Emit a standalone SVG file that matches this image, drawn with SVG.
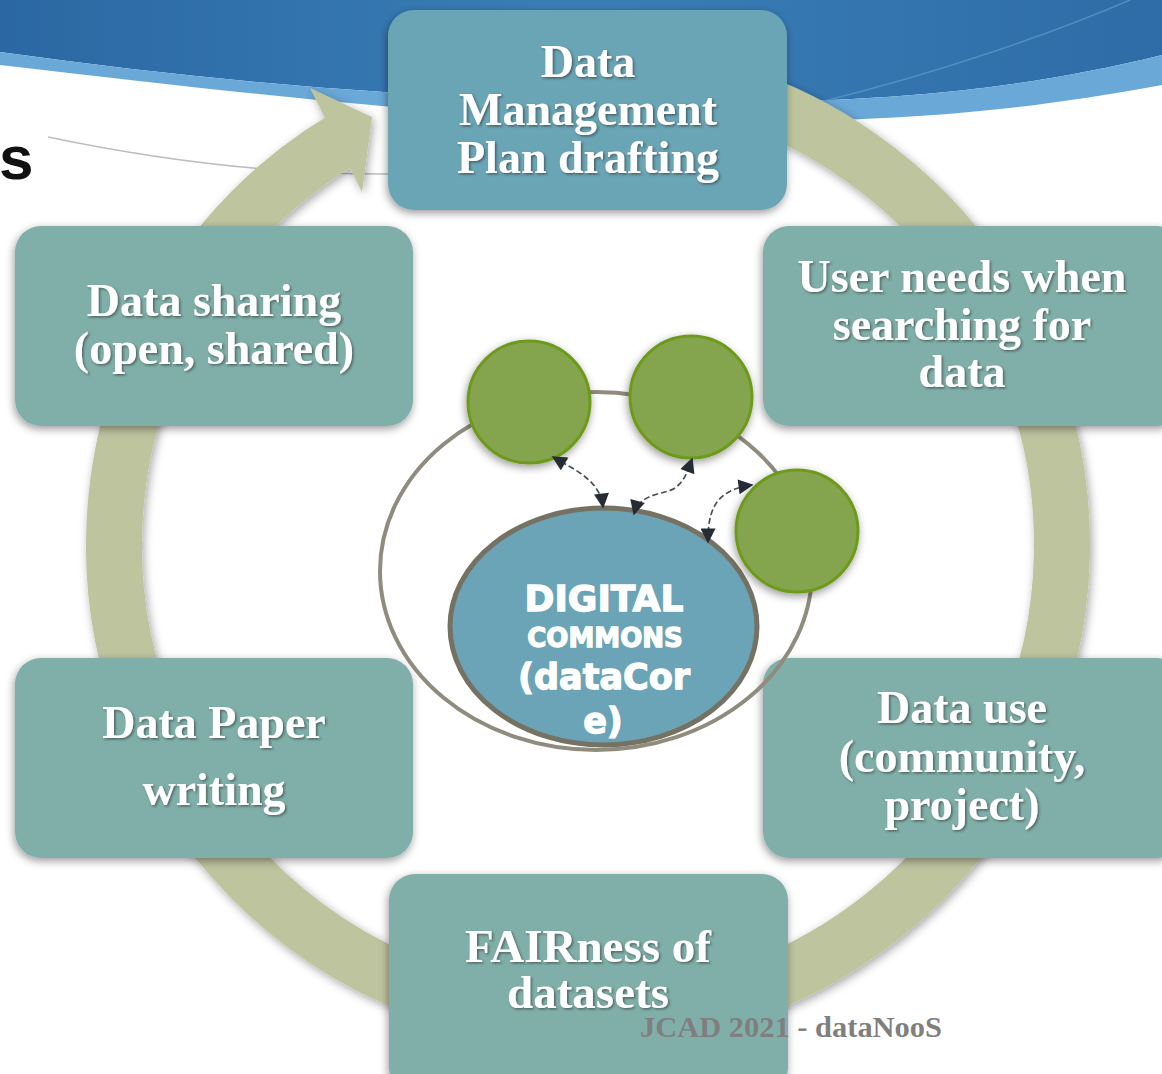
<svg xmlns="http://www.w3.org/2000/svg" width="1162" height="1074" viewBox="0 0 1162 1074">
<defs>
<linearGradient id="bannerGrad" x1="0" y1="0" x2="1" y2="0">
<stop offset="0" stop-color="#2B68A3"/>
<stop offset="0.5" stop-color="#3A7EB7"/>
<stop offset="1" stop-color="#2E6CA7"/>
</linearGradient>
<filter id="shadow" x="-20%" y="-20%" width="140%" height="140%">
<feDropShadow dx="-1" dy="3" stdDeviation="4" flood-color="#000" flood-opacity="0.4"/>
</filter>
<filter id="ringShadow" x="-10%" y="-10%" width="120%" height="120%">
<feDropShadow dx="2" dy="3" stdDeviation="5" flood-color="#000" flood-opacity="0.35"/>
</filter>
<filter id="textShadow" x="-10%" y="-10%" width="120%" height="130%">
<feDropShadow dx="1.5" dy="1.5" stdDeviation="1" flood-color="#2a2a2a" flood-opacity="0.55"/>
</filter>
<marker id="ah" viewBox="0 0 10 10" refX="9" refY="5" markerWidth="18" markerHeight="15" markerUnits="userSpaceOnUse" orient="auto-start-reverse">
<path d="M0,0 L10,5 L0,10 z" fill="#252C35"/>
</marker>
</defs>
<style>
.box{fill:#80AFA9;filter:url(#shadow)}
.boxDmp{fill:#6BA5B5;filter:url(#shadow)}
.lbl{font-family:"Liberation Serif","DejaVu Serif",serif;font-weight:bold;font-size:46px;fill:#ffffff;text-anchor:middle;filter:url(#textShadow)}
.core{font-family:"DejaVu Sans","Liberation Sans",sans-serif;font-weight:bold;fill:#ffffff;stroke:#ffffff;stroke-width:1.3;text-anchor:middle}
.green{fill:#84A54D;stroke:#6E9A1C;stroke-width:3;filter:url(#shadow)}
.link{fill:none;stroke:#4A5058;stroke-width:1.7;stroke-dasharray:6 3}
</style>
<rect width="1162" height="1074" fill="#ffffff"/>
<g id="banner">
<path d="M0,0 H1162 V55 C1000,95 850,105 620,102 C400,98 200,80 0,52 Z" fill="url(#bannerGrad)"/>
<path d="M0,52 C200,80 400,98 620,102 C850,105 1000,95 1162,55 V85 C1000,115 880,122 700,122 C500,122 300,100 0,65 Z" fill="#6AA8D8"/>
<path d="M820,102 C950,70 1060,30 1130,0" fill="none" stroke="#5E9BCB" stroke-width="1.5" opacity="0.7"/>
<path d="M48,137 Q230,175 390,174" fill="none" stroke="#BDBDBD" stroke-width="1.5"/>
<text x="-1" y="179" font-family="Liberation Sans, Arial, sans-serif" font-weight="bold" font-size="62" fill="#111111">s</text>
</g>
<g id="cycle" filter="url(#ringShadow)">
<path d="M670.3,78.2 A474,474 0 1 1 343.9,138.7" fill="none" stroke="#BEC49E" stroke-width="56"/>
<polygon points="310,88 372,117 362,192" fill="#BEC49E"/>
</g>
<g id="node-dmp">
<rect class="boxDmp" x="388" y="10" width="399" height="200" rx="26"/>
<text class="lbl"><tspan x="588" y="77">Data</tspan><tspan x="588" y="125">Management</tspan><tspan x="588" y="173">Plan drafting</tspan></text>
</g>
<g id="node-userneeds">
<rect class="box" x="763" y="226" width="420" height="200" rx="26"/>
<text class="lbl"><tspan x="962" y="292">User needs when</tspan><tspan x="962" y="340">searching for</tspan><tspan x="962" y="387">data</tspan></text>
</g>
<g id="node-sharing">
<rect class="box" x="15" y="226" width="398" height="200" rx="26"/>
<text class="lbl"><tspan x="214" y="316">Data sharing</tspan><tspan x="214" y="364">(open, shared)</tspan></text>
</g>
<g id="node-paper">
<rect class="box" x="15" y="658" width="398" height="200" rx="26"/>
<text class="lbl"><tspan x="214" y="738">Data Paper</tspan><tspan x="214" y="805">writing</tspan></text>
</g>
<g id="node-use">
<rect class="box" x="763" y="658" width="420" height="200" rx="26"/>
<text class="lbl"><tspan x="962" y="723">Data use</tspan><tspan x="962" y="772">(community,</tspan><tspan x="962" y="820">project)</tspan></text>
</g>
<g id="node-fair">
<rect class="box" x="389" y="874" width="399" height="220" rx="26"/>
<text class="lbl" font-size="47" style="font-size:47px"><tspan x="588" y="962">FAIRness of</tspan><tspan x="588" y="1008">datasets</tspan></text>
</g>
<g id="node-community">
<ellipse cx="596" cy="571" rx="216" ry="179" fill="none" stroke="#8F8C7E" stroke-width="4"/>
</g>
<g id="node-core">
<ellipse cx="603.5" cy="626.5" rx="153.5" ry="118.5" fill="#6AA4B6" stroke="#757264" stroke-width="5"/>
<text class="core" x="604" y="611" font-size="36">DIGITAL</text>
<text class="core" x="605" y="647" font-size="26">COMMONS</text>
<text class="core" x="604" y="689" font-size="35">(dataCor</text>
<text class="core" x="603" y="733" font-size="35">e)</text>
</g>
<g id="node-green1"><circle class="green" cx="529" cy="402" r="61"/></g>
<g id="node-green2"><circle class="green" cx="691" cy="397" r="61"/></g>
<g id="node-green3"><circle class="green" cx="797" cy="531" r="61"/></g>
<g id="connectors">
<path class="link" d="M553,457 C575,470 600,480 603,507" marker-start="url(#ah)" marker-end="url(#ah)"/>
<path class="link" d="M634,514 C640,492 665,495 675,488 S688,470 692,459" marker-start="url(#ah)" marker-end="url(#ah)"/>
<path class="link" d="M708,542 C708,510 715,490 752,485" marker-start="url(#ah)" marker-end="url(#ah)"/>
</g>
<g id="footer">
<text x="640" y="1037" font-family="Liberation Serif, Times New Roman, serif" font-weight="bold" font-size="29" fill="#7F7F7F" textLength="302" lengthAdjust="spacingAndGlyphs">JCAD 2021 - dataNooS</text>
</g>
</svg>
